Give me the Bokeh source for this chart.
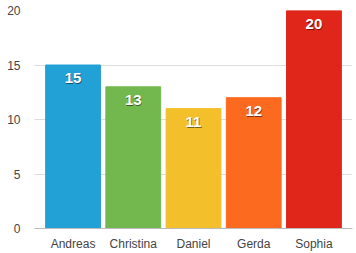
from bokeh.plotting import figure
from bokeh.models import ColumnDataSource, FactorRange
from bokeh.core.properties import value
from bokeh.embed import file_html
from bokeh.resources import INLINE

names = ["Andreas", "Christina", "Daniel", "Gerda", "Sophia"]
scores = [15, 13, 11, 12, 20]
colors = ["#22a1d6", "#72b84f", "#f3c02c", "#fc6a1f", "#e0251a"]
y_ticks = [0, 5, 10, 15, 20]

src = ColumnDataSource(dict(name=names, score=scores, color=colors,
                            label=[str(v) for v in scores]))

p = figure(width=356, height=253, output_backend="svg", toolbar_location=None,
           x_range=FactorRange(factors=names, range_padding=0.14,
                               range_padding_units="absolute"),
           y_range=(0, 20),
           min_border_left=34, min_border_right=4, min_border_top=10,
           min_border_bottom=0)
p.outline_line_color = None
p.background_fill_color = "white"

p.vbar(x="name", top="score", width=0.91, color="color", source=src)

FONT = "Liberation Sans"
# shadow
p.text(x="name", y="score", text="label", source=src, x_offset=0.6, y_offset=14,
       text_color="#000000", text_alpha=0.5, text_align="center",
       text_baseline="middle", text_font_size="15px", text_font_style="bold",
       text_font=value(FONT))
p.text(x="name", y="score", text="label", source=src, y_offset=13,
       text_color="white", text_align="center", text_baseline="middle",
       text_font_size="15px", text_font_style="bold", text_font=value(FONT))

p.yaxis.ticker = y_ticks
p.yaxis.axis_line_color = None
p.yaxis.major_tick_line_color = None
p.yaxis.minor_tick_line_color = None
p.yaxis.major_label_text_font = FONT
p.yaxis.major_label_text_font_size = "12px"
p.yaxis.major_label_text_color = "#444444"
p.yaxis.major_label_standoff = 8

p.xaxis.axis_line_color = "#bbbbbb"
p.xaxis.major_tick_line_color = None
p.xaxis.minor_tick_line_color = None
p.xaxis.major_label_text_font = FONT
p.xaxis.major_label_text_font_size = "12px"
p.xaxis.major_label_text_color = "#444444"
p.xaxis.major_label_standoff = 2

p.xgrid.grid_line_color = None
p.ygrid.grid_line_color = "#bbbbbb"
p.ygrid.grid_line_dash = "1 1"

open("out.html", "w").write(file_html(p, INLINE))
